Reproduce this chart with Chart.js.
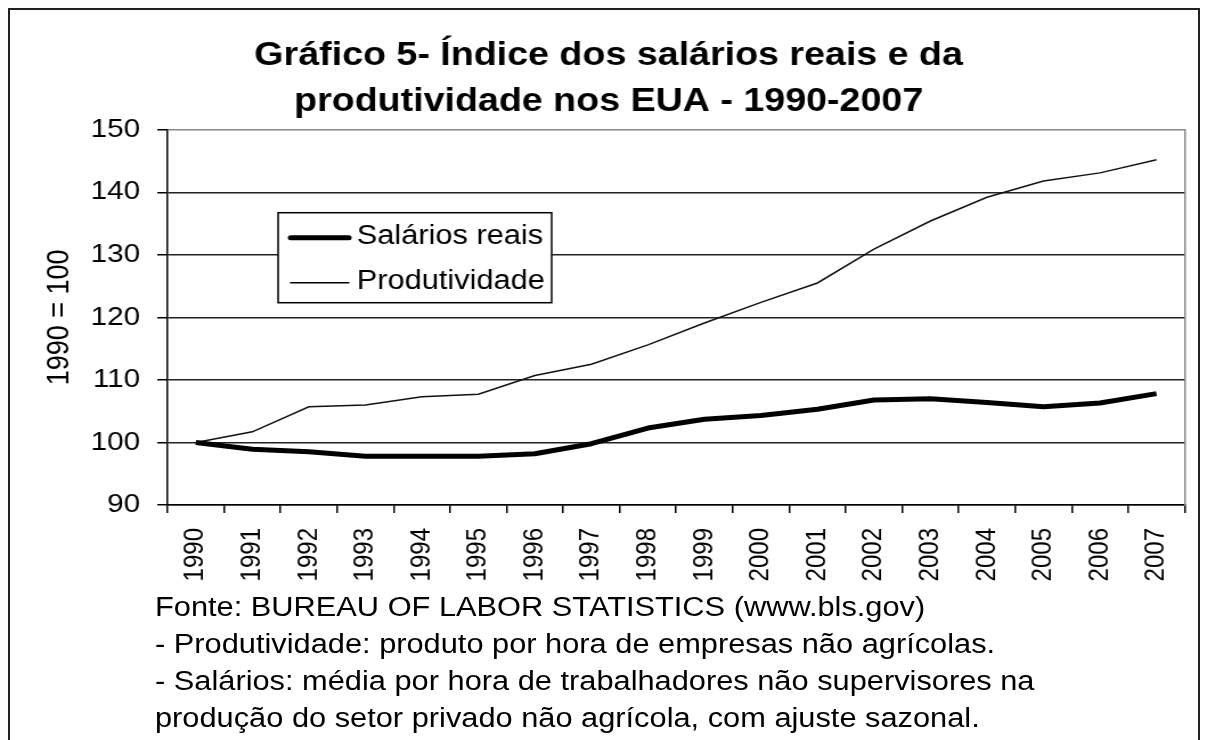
<!DOCTYPE html>
<html>
<head>
<meta charset="utf-8">
<script src="https://cdn.jsdelivr.net/npm/chart.js@4.4.1/dist/chart.umd.min.js"></script>
<style>
  html, body { margin: 0; padding: 0; background: #fff; overflow: hidden; }
  #wrap { position: relative; width: 1207px; height: 740px; }
  #frame { position: absolute; left: 8px; top: 8px; width: 1192px; height: 800px; border: 2px solid #222; box-sizing: border-box; }
  canvas { position: absolute; left: 0; top: 0; }
  #fonte { position: absolute; left: 155px; top: 589px; font: 27px "Liberation Sans", Arial, sans-serif; line-height: 37px; color: #000; white-space: nowrap; transform: scaleX(1.14); transform-origin: 0 0; }
</style>
</head>
<body>
<div id="wrap">
  <div id="frame"></div>
  <!-- o original é esticado na horizontal: desenha em 1059px e mostra em 1207px -->
  <canvas id="grafico" width="1059" height="740" style="width:1207px;height:740px"></canvas>
  <div id="fonte">
    Fonte: BUREAU OF LABOR STATISTICS (www.bls.gov)<br>
    - Produtividade: produto por hora de empresas não agrícolas.<br>
    - Salários: média por hora de trabalhadores não supervisores na<br>
    produção do setor privado não agrícola, com ajuste sazonal.
  </div>
</div>
<script>
// Dados (1990 = 100)
const anos = ['1990', '1991', '1992', '1993', '1994', '1995', '1996', '1997', '1998',
              '1999', '2000', '2001', '2002', '2003', '2004', '2005', '2006', '2007'];
const salarios = [100, 98.9, 98.5, 97.8, 97.8, 97.8, 98.2, 99.8, 102.3,
                  103.7, 104.3, 105.3, 106.8, 107.0, 106.4, 105.7, 106.3, 107.8];
const produtividade = [100, 101.7, 105.7, 106.0, 107.3, 107.7, 110.7, 112.5, 115.6,
                       119.1, 122.4, 125.5, 130.9, 135.4, 139.2, 141.8, 143.1, 145.2];
const yTicks = [90, 100, 110, 120, 130, 140, 150];

Chart.defaults.font.family = '"Liberation Sans", Arial, sans-serif';
Chart.defaults.color = '#000';

// legenda desenhada dentro da área do gráfico
const legendaInterna = {
    id: 'legendaInterna',
    afterDatasetsDraw(chart) {
        const ctx = chart.ctx;
        const a = chart.chartArea;
        const x = a.left + 97, y = a.top + 83, w = 240, h = 90;
        ctx.save();
        ctx.fillStyle = '#fff';
        ctx.fillRect(x, y, w, h);
        ctx.strokeStyle = '#000';
        ctx.lineWidth = 1.5;
        ctx.strokeRect(x, y, w, h);
        ctx.font = '27px "Liberation Sans", Arial, sans-serif';
        ctx.textBaseline = 'middle';
        ctx.fillStyle = '#000';
        chart.data.datasets.forEach((ds, i) => {
            const ly = y + 25 + i * 45;
            ctx.beginPath();
            ctx.lineWidth = ds.borderWidth;
            ctx.lineCap = 'round';
            ctx.moveTo(x + 11, ly);
            ctx.lineTo(x + 62, ly);
            ctx.stroke();
            ctx.fillText(ds.label, x + 69, ly - 1);
        });
        ctx.restore();
    }
};

new Chart(document.getElementById('grafico').getContext('2d'), {
    type: 'line',
    data: {
        labels: anos,
        datasets: [{
            label: 'Salários reais',
            data: salarios,
            borderColor: '#000',
            borderWidth: 5,
            borderJoinStyle: 'round',
            pointRadius: 0,
            tension: 0
        }, {
            label: 'Produtividade',
            data: produtividade,
            borderColor: '#111',
            borderWidth: 1.5,
            pointRadius: 0,
            tension: 0
        }]
    },
    options: {
        responsive: false,
        animation: false,
        devicePixelRatio: 1,
        layout: { padding: { left: 28, right: 19, top: 0, bottom: 139 } },
        plugins: {
            legend: { display: false },
            tooltip: { enabled: false },
            title: {
                display: true,
                text: ['Gráfico 5- Índice dos salários reais e da', 'produtividade nos EUA - 1990-2007'],
                font: { size: 33, weight: 'bold', lineHeight: 1.42 },
                color: '#000',
                padding: { top: 32, bottom: 4 }
            }
        },
        scales: {
            x: {
                offset: true,
                grid: { offset: true, drawOnChartArea: false, tickLength: 8, color: '#000', lineWidth: 1.5 },
                border: { color: '#000', width: 1.5 },
                ticks: { font: { size: 24 }, minRotation: 90, maxRotation: 90, autoSkip: false, padding: 15 },
                afterFit(scale) { scale.height = 96; }
            },
            y: {
                min: 90,
                max: 150,
                afterBuildTicks(scale) { scale.ticks = yTicks.map(v => ({ value: v })); },
                grid: {
                    color: c => (c.tick && c.tick.value === 150 ? '#888' : '#222'),
                    tickColor: '#000',
                    lineWidth: 1.5,
                    tickLength: 9
                },
                border: { color: '#000', width: 1.5 },
                ticks: { font: { size: 26 }, padding: 15 },
                title: { display: true, text: '1990 = 100', font: { size: 27 }, padding: { top: 8, bottom: 0 } },
                afterFit(scale) { scale.width = 119; }
            },
            y2: {
                position: 'right',
                grid: { drawOnChartArea: false, drawTicks: false },
                border: { color: '#888', width: 1.5 },
                ticks: { display: false },
                afterFit(scale) { scale.width = 0; }
            }
        }
    },
    plugins: [legendaInterna]
});
</script>
</body>
</html>
